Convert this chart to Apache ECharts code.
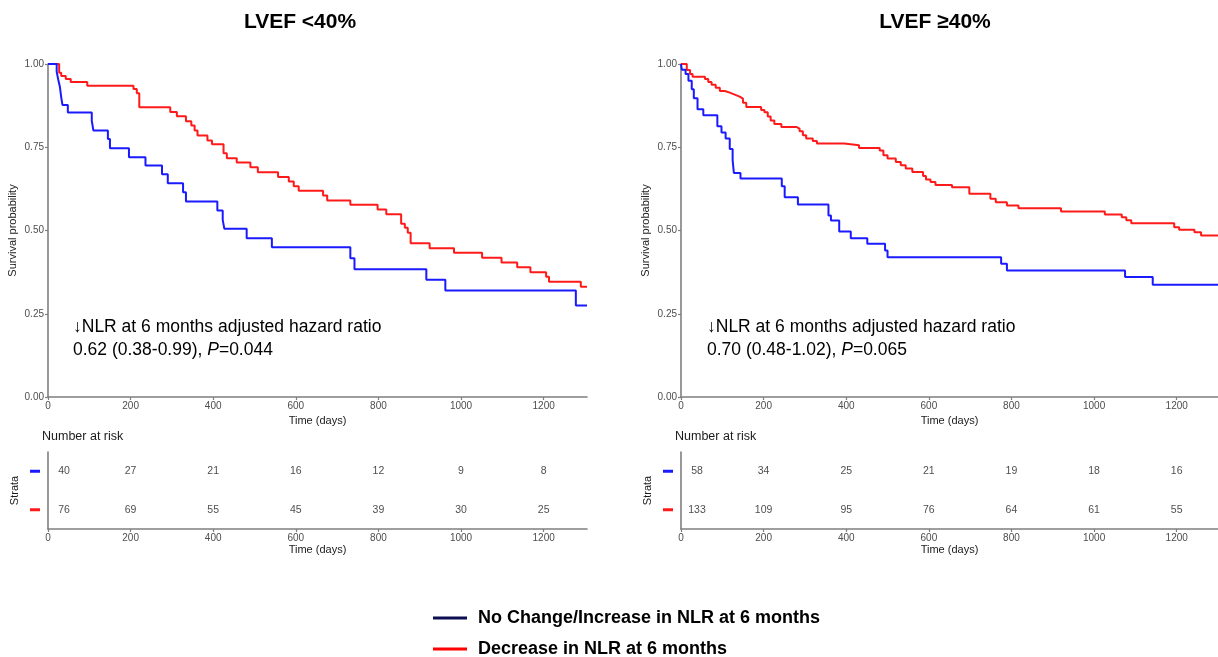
<!DOCTYPE html>
<html>
<head>
<meta charset="utf-8">
<script src="https://cdn.jsdelivr.net/npm/echarts@6/dist/echarts.min.js"></script>
<style>
html,body{margin:0;padding:0;background:#fff;}
#c{width:1218px;height:657px;}
</style>
</head>
<body>
<div id="c"></div>
<script>
// ---------- data ----------
var seriesNames = ['No Change/Increase in NLR at 6 months', 'Decrease in NLR at 6 months'];
var panelTitles = ['LVEF <40%', 'LVEF \u226540%'];
var yTicks = [0, 0.25, 0.5, 0.75, 1];
var xTicks = [0, 200, 400, 600, 800, 1000, 1200];
var riskTimes = [0, 200, 400, 600, 800, 1000, 1200];

// LVEF <40% : Kaplan-Meier steps [time, survival]
var lowBlue = [[0,1],[21,0.977],[25,0.952],[29,0.93],[32,0.90],[35,0.877],[48,0.854],[106,0.829],[110,0.80],[145,0.775],[150,0.747],[196,0.72],[236,0.695],[276,0.669],[290,0.642],[327,0.615],[334,0.587],[410,0.56],[423,0.532],[427,0.505],[481,0.477],[542,0.45],[732,0.417],[742,0.384],[916,0.352],[962,0.32],[1278,0.275],[1305,0.275]];
var lowRed = [[0,1],[27,0.974],[32,0.964],[43,0.955],[55,0.946],[95,0.935],[207,0.925],[215,0.912],[221,0.87],[296,0.856],[312,0.843],[334,0.828],[347,0.815],[355,0.80],[362,0.785],[386,0.77],[397,0.759],[425,0.732],[433,0.717],[457,0.704],[490,0.69],[508,0.675],[557,0.661],[583,0.647],[595,0.633],[607,0.619],[666,0.605],[676,0.59],[732,0.577],[798,0.563],[819,0.549],[855,0.52],[864,0.508],[871,0.493],[878,0.462],[924,0.447],[983,0.433],[1051,0.418],[1098,0.404],[1136,0.39],[1168,0.375],[1206,0.361],[1213,0.346],[1290,0.331],[1305,0.331]];
// LVEF >=40%
var highBlue = [[0,1],[2,0.983],[11,0.97],[18,0.95],[26,0.924],[31,0.897],[40,0.864],[54,0.846],[88,0.813],[98,0.794],[108,0.776],[118,0.745],[125,0.711],[128,0.673],[144,0.656],[244,0.633],[251,0.60],[283,0.578],[357,0.545],[363,0.53],[383,0.497],[411,0.477],[451,0.46],[494,0.44],[500,0.42],[775,0.40],[789,0.38],[1075,0.36],[1142,0.337],[1300,0.337]];
var highRed = [[0,1],[14,0.982],[22,0.97],[28,0.962],[58,0.955],[66,0.946],[74,0.938],[84,0.929],[94,0.919],[106,0.914],[118,0.908],[130,0.902],[142,0.896],[150,0.884],[158,0.871],[194,0.862],[202,0.855],[210,0.842],[217,0.83],[226,0.82],[243,0.811],[279,0.806],[287,0.798],[295,0.786],[303,0.776],[319,0.769],[329,0.761],[395,0.756],[431,0.748],[481,0.74],[490,0.726],[500,0.716],[520,0.706],[532,0.696],[544,0.686],[560,0.676],[586,0.664],[593,0.653],[604,0.646],[616,0.637],[656,0.63],[698,0.61],[749,0.595],[762,0.585],[789,0.575],[817,0.567],[920,0.557],[1026,0.548],[1067,0.54],[1078,0.531],[1090,0.522],[1194,0.51],[1206,0.502],[1243,0.495],[1259,0.485],[1300,0.485]];

// Number at risk
var lowRiskBlue = [40, 27, 21, 16, 12, 9, 8];
var lowRiskRed = [76, 69, 55, 45, 39, 30, 25];
var highRiskBlue = [58, 34, 25, 21, 19, 18, 16];
var highRiskRed = [133, 109, 95, 76, 64, 61, 55];

var xMax = [1305, 1300];
var hrText = [
  ['\u2193NLR at 6 months adjusted hazard ratio', '0.62 (0.38-0.99), {i|P}=0.044'],
  ['\u2193NLR at 6 months adjusted hazard ratio', '0.70 (0.48-1.02), {i|P}=0.065']
];

// ---------- layout ----------
var FONT = 'Arial, "Liberation Sans", sans-serif';
var BLUE = '#1a1aff', RED = '#ff1a1a', AXIS = '#7f7f7f', TXT = '#4d4d4d';
var panels = [
  {left: 48, width: 539, titleX: 300, annX: 73},
  {left: 681, width: 537, titleX: 935, annX: 707}
];
var grids = [], xAxes = [], yAxes = [], series = [], graphics = [];
var curves = [[lowBlue, lowRed], [highBlue, highRed]];
var risks = [[lowRiskBlue, lowRiskRed], [highRiskBlue, highRiskRed]];
var strataCats = ['red', 'blue'];

panels.forEach(function (p, i) {
  grids.push({left: p.left, top: 64, width: p.width, height: 333, containLabel: false});
  grids.push({left: p.left, top: 452, width: p.width, height: 77, containLabel: false});
  var gMain = i * 2, gRisk = i * 2 + 1;
  [gMain, gRisk].forEach(function (g) {
    xAxes.push({
      gridIndex: g, type: 'value', min: 0, max: xMax[i], interval: 200,
      axisLine: {show: true, lineStyle: {color: AXIS, width: 1.6}},
      splitLine: {show: false},
      axisTick: {show: true, length: 3, lineStyle: {color: AXIS, width: 1.2}, customValues: xTicks},
      axisLabel: {color: TXT, fontSize: 10, fontFamily: FONT, margin: 4, customValues: xTicks,
        formatter: function (v) { return String(v); }},
      name: 'Time (days)', nameLocation: 'middle', nameGap: 15,
      nameTextStyle: {color: '#1a1a1a', fontSize: 11, fontFamily: FONT}
    });
  });
  yAxes.push({
    gridIndex: gMain, type: 'value', min: 0, max: 1, interval: 0.25,
    axisLine: {show: true, lineStyle: {color: AXIS, width: 1.6}},
    axisTick: {show: true, length: 3, lineStyle: {color: AXIS, width: 1.2}},
    splitLine: {show: false},
    axisLabel: {color: TXT, fontSize: 10, fontFamily: FONT, margin: 4,
      formatter: function (v) { return v.toFixed(2); }},
    name: 'Survival probability', nameLocation: 'middle', nameGap: 30,
    nameTextStyle: {color: '#1a1a1a', fontSize: 11, fontFamily: FONT}
  });
  yAxes.push({
    gridIndex: gRisk, type: 'category', data: strataCats, boundaryGap: true,
    axisLine: {show: true, lineStyle: {color: AXIS, width: 1.6}},
    axisTick: {show: false}, splitLine: {show: false},
    axisLabel: {margin: 8, formatter: function (v) { return v === 'blue' ? '{b| }' : '{r| }'; },
      rich: {b: {width: 10, height: 3, lineHeight: 3, backgroundColor: BLUE, fontSize: 1},
             r: {width: 10, height: 3, lineHeight: 3, backgroundColor: RED, fontSize: 1}}},
    name: 'Strata', nameLocation: 'middle', nameGap: 28,
    nameTextStyle: {color: '#1a1a1a', fontSize: 11, fontFamily: FONT}
  });
  var cols = [BLUE, RED];
  curves[i].forEach(function (d, k) {
    series.push({
      name: seriesNames[k], type: 'line', step: 'end', xAxisIndex: gMain, yAxisIndex: gMain,
      data: d, showSymbol: false, symbol: 'none', silent: true,
      lineStyle: {color: cols[k], width: 2}, itemStyle: {color: cols[k]}, z: k === 0 ? 3 : 2
    });
  });
  risks[i].forEach(function (arr, k) {
    series.push({
      type: 'scatter', xAxisIndex: gRisk, yAxisIndex: gRisk, symbolSize: 0, silent: true,
      data: arr.map(function (n, j) {
        var item = {value: [riskTimes[j], k === 0 ? 'blue' : 'red', n]};
        if (j === 0) item.label = {offset: [16, 0]};
        return item;
      }),
      label: {show: true, position: 'inside', color: '#1a1a1a', fontSize: 10.5, fontFamily: FONT,
        formatter: function (pp) { return String(pp.value[2]); }}
    });
  });
  graphics.push({type: 'text', x: p.titleX, y: 22, style: {text: panelTitles[i], fill: '#000',
    font: 'bold 21px ' + FONT, textAlign: 'center', textVerticalAlign: 'middle'}});
  graphics.push({type: 'text', x: p.annX, y: 316, style: {text: hrText[i][0] + '\n' + hrText[i][1],
    fill: '#000', font: '17.5px ' + FONT, lineHeight: 23,
    rich: {i: {fontStyle: 'italic', fontSize: 17.5, fontFamily: FONT, fill: '#000'}}}});
  graphics.push({type: 'text', x: p.left - 6, y: 430, style: {text: 'Number at risk', fill: '#1a1a1a',
    font: '12.5px ' + FONT}});
});

var legendColors = ['#0d0d52', '#ff0000'];
var legends = seriesNames.map(function (nm, k) {
  return {
    orient: 'horizontal', left: 433, top: k === 0 ? 609 : 640, itemWidth: 34, itemHeight: 3,
    icon: 'rect', selectedMode: false, padding: 0, itemGap: 0,
    textStyle: {color: '#000', fontSize: 18, fontWeight: 'bold', fontFamily: FONT, padding: [0, 0, 0, 6]},
    data: [{name: nm, itemStyle: {color: legendColors[k]}}]
  };
});

var option = {
  animation: false,
  backgroundColor: '#fff',
  grid: grids, xAxis: xAxes, yAxis: yAxes, series: series, graphic: graphics,
  legend: legends
};
var chart = echarts.init(document.getElementById('c'));
chart.setOption(option);
</script>
</body>
</html>
